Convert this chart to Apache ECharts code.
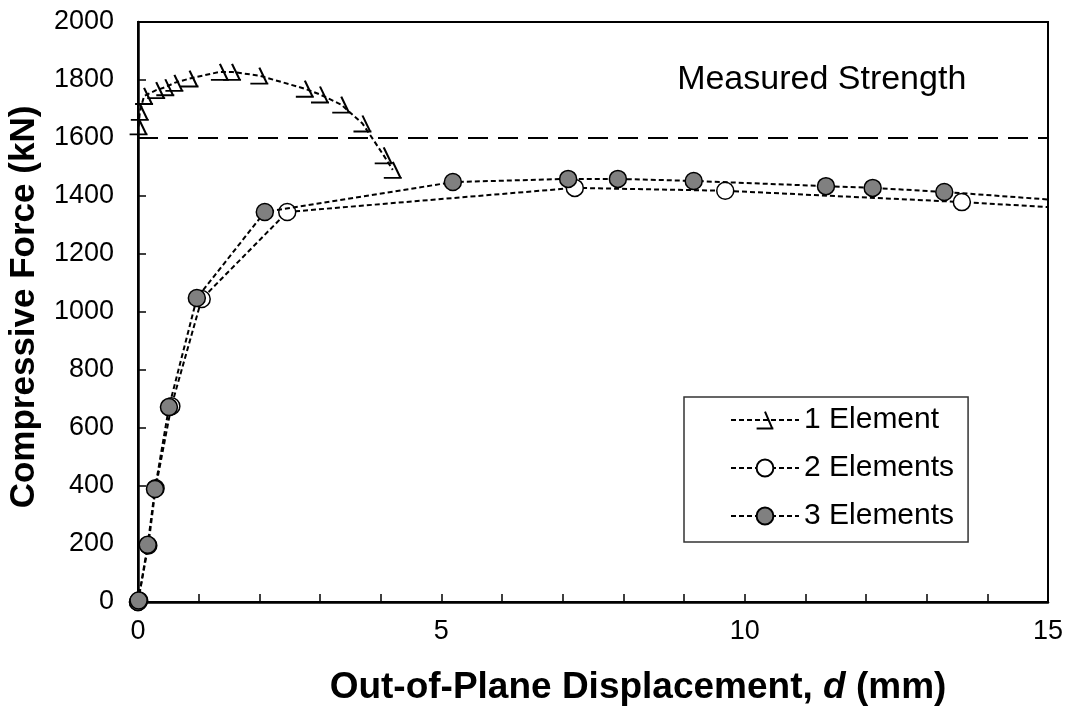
<!DOCTYPE html>
<html>
<head>
<meta charset="utf-8">
<script src="https://cdn.jsdelivr.net/npm/echarts@6/dist/echarts.min.js"></script>
<style>
html,body{margin:0;padding:0;background:#fff;}
#chart{width:1068px;height:706px;}
</style>
</head>
<body>
<div id="chart"></div>
<script>
// ---- data ----
const oneElemX = [0.01, 0.03, 0.10, 0.30, 0.45, 0.60, 0.85, 1.35, 1.55, 2.00, 2.75, 3.00, 3.35, 3.70, 4.05, 4.20];
const oneElemY = [1640, 1690, 1745, 1765, 1775, 1790, 1805, 1828, 1828, 1815, 1770, 1750, 1715, 1650, 1540, 1490];

const twoElemX = [0, 0.02, 0.17, 0.29, 0.55, 1.05, 2.46, 7.20, 9.68, 13.58, 16.0];
const twoElemY = [0, 5, 195, 392, 675, 1045, 1345, 1428, 1418, 1379, 1350];

const threeElemX = [0, 0.01, 0.16, 0.28, 0.51, 0.97, 2.09, 5.19, 7.09, 7.91, 9.16, 11.34, 12.11, 13.29, 16.0];
const threeElemY = [0, 5, 197, 390, 672, 1048, 1345, 1448, 1459, 1459, 1452, 1434, 1428, 1414, 1373];

const measuredX = [0, 15];
const measuredY = [1600, 1600];
const measuredLabel = 'Measured Strength';
const measuredLabelAt = [11.27, 1800];

const seriesNames = ['1 Element', '2 Elements', '3 Elements'];
const xTitle = 'Out-of-Plane Displacement, ';
const xTitleItalic = 'd';
const xTitleEnd = ' (mm)';
const yTitle = 'Compressive Force (kN)';

// ---- build ----
const zip = (xs, ys) => xs.map((x, i) => [x, ys[i]]);
const FONT = '"Liberation Sans", Arial, sans-serif';
const triPath = 'path://M7,0 L13,15 M0,15 L14,15';

const chart = echarts.init(document.getElementById('chart'), null, {renderer: 'canvas'});

const dashLine = {color: '#000', width: 2, type: [5, 3]};

chart.setOption({
  animation: false,
  backgroundColor: '#fff',
  grid: {left: 138, right: 20, top: 22, bottom: 104, show: true, borderColor: '#000', borderWidth: 2,
         containLabel: false, outerBoundsMode: 'none'},
  xAxis: {
    type: 'value', min: 0, max: 15, interval: 5,
    axisLine: {show: true, onZero: false, lineStyle: {color: '#000', width: 2.5}},
    axisTick: {show: true, inside: true, length: 8, lineStyle: {color: '#000', width: 1.5}},
    minorTick: {show: true, splitNumber: 5, length: 8, lineStyle: {color: '#000', width: 1.5}},
    splitLine: {show: false},
    axisLabel: {color: '#000', fontSize: 27, fontFamily: FONT, margin: 16, formatter: v => String(v)},
    name: '{b|' + xTitle + '}{i|' + xTitleItalic + '}{b|' + xTitleEnd + '}',
    nameLocation: 'middle', nameGap: 67,
    nameTextStyle: {
      padding: [0, 0, 0, 90],
      rich: {
        b: {fontSize: 37, fontWeight: 'bold', fontFamily: FONT, color: '#000'},
        i: {fontSize: 37, fontWeight: 'bold', fontStyle: 'italic', fontFamily: FONT, color: '#000'}
      }
    }
  },
  yAxis: {
    type: 'value', min: 0, max: 2000, interval: 200,
    axisLine: {show: true, onZero: false, lineStyle: {color: '#000', width: 2.5}},
    axisTick: {show: true, inside: true, length: 8, lineStyle: {color: '#000', width: 1.5}},
    splitLine: {show: false},
    axisLabel: {color: '#000', fontSize: 27, fontFamily: FONT, margin: 24, formatter: v => String(v)},
    name: yTitle, nameLocation: 'middle', nameGap: 96, nameRotate: 90,
    nameTextStyle: {fontSize: 35, fontWeight: 'bold', fontFamily: FONT, color: '#000', padding: [0, 0, 0, 10]}
  },
  legend: {
    orient: 'vertical', left: 684, top: 397,
    data: seriesNames,
    borderColor: '#333', borderWidth: 1.5, borderRadius: 0,
    padding: [8, 14, 11, 46],
    itemWidth: 68, itemHeight: 21, itemGap: 18,
    textStyle: {fontSize: 30, fontFamily: FONT, color: '#000'}
  },
  series: [
    {
      name: 'Measured', type: 'line', data: zip(measuredX, measuredY),
      symbol: 'none', silent: true,
      lineStyle: {color: '#000', width: 2, type: [20, 10]},
      markPoint: {
        symbol: 'circle', symbolSize: 0, silent: true,
        data: [{coord: measuredLabelAt, value: measuredLabel}],
        label: {show: true, position: 'inside', formatter: measuredLabel, color: '#000', fontSize: 34, fontFamily: FONT}
      }
    },
    {
      name: seriesNames[0], type: 'line', data: zip(oneElemX, oneElemY),
      symbol: triPath, symbolSize: [18, 16],
      itemStyle: {color: 'rgba(0,0,0,0)', borderColor: '#000', borderWidth: 2},
      lineStyle: dashLine, z: 3
    },
    {
      name: seriesNames[1], type: 'line', data: zip(twoElemX, twoElemY), clip: true,
      symbol: 'circle', symbolSize: 17,
      itemStyle: {color: '#fff', borderColor: '#000', borderWidth: 1.5},
      lineStyle: dashLine, z: 4
    },
    {
      name: seriesNames[2], type: 'line', data: zip(threeElemX, threeElemY), clip: true,
      symbol: 'circle', symbolSize: 17,
      itemStyle: {color: '#808080', borderColor: '#000', borderWidth: 1.5},
      lineStyle: dashLine, z: 5
    }
  ]
});
</script>
</body>
</html>
